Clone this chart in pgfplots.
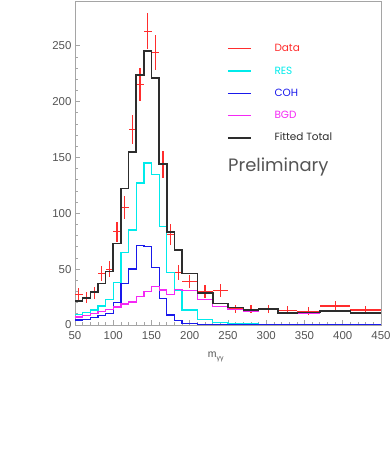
\documentclass[border=0pt]{standalone}
\usepackage{fontspec}
\setmainfont{Liberation Sans}
\newfontfamily\pop{Poppins}
\usepackage{pgfplots}
\usepackage{pgfplotstable}
\pgfplotsset{compat=1.18}

\definecolor{datared}{RGB}{255,45,45}
\definecolor{rescyan}{RGB}{0,235,235}
\definecolor{cohblue}{RGB}{25,25,235}
\definecolor{bgdmag}{RGB}{245,40,245}
\definecolor{totgray}{RGB}{45,45,45}
\definecolor{axgray}{RGB}{165,165,165}
\definecolor{lblgray}{RGB}{85,85,85}

% lower bin edge, RES, COH, BGD, fitted total (last row closes the last bin)
\pgfplotstableread{
lo  res   coh  bgd   tot
50  9.5   4.5  7.2   21.5
60  11    5    8.5   24
70  13.5  7    10.2  29.5
80  17    8.5  11.8  37
90  23    10.5 14    48
100 38    20   16    73
110 65    37   18.8  122
120 85    50   20.6  155
130 127   71   25.4  224
140 145   70   30    245
150 135   51.7 34.4  221
160 88    24   31.4  144
170 47    9    27    83
180 31    3.9  32    67
190 13.5  1.5  31    46
210 5     0.7  22.7  28.4
230 2.2   0.4  16.8  19.4
250 1.2   0.2  14.1  15.5
270 0.8   0.1  12.6  13.5
290 0.6   0.1  13.6  14.3
315 0.5   0.1  10.4  11
340 0.4   0.1  10.8  11.3
370 0.3   0.1  12.1  12.5
410 0.2   0.1  10.2  10.5
450 0.2   0.1  10.2  10.5
}\histtab

% data points: centre, value, half bin width, error
\pgfplotstableread{
x     y     dx   dy
55    27.5  5    5.2
65    24.5  5    5.0
75    29    5    5.4
85    46.3  5    6.8
95    50    5    7.1
105   83.5  5    9.1
115   105.5 5    10.3
125   175   5    13.2
135   215   5    14.7
145   263   5    16.2
155   244   5    15.6
165   144   5    12
175   81    5    9
185   47    5    6.9
200   39    10   6.2
220   30    10   5.5
240   31    10   5.6
260   14.3  10   3.8
280   14    10   3.7
302.5 14    12.5 3.7
327.5 13    12.5 3.6
355   12.3  15   3.5
390   17    20   4.1
430   13.5  20   3.7
}\datatab

\begin{document}
\begin{tikzpicture}
\begin{axis}[
    name=ax,
    scale only axis,
    width=306bp, height=324bp,
    xmin=50, xmax=450, ymin=0, ymax=290,
    xtick={50,100,...,450},
    ytick={0,50,...,250},
    minor x tick num=4, minor y tick num=4,
    xtick pos=left, ytick pos=left,
    tick align=inside,
    major tick length=5bp, minor tick length=2.8bp,
    axis line style={draw=axgray, line width=0.8bp},
    tick style={draw=axgray, line width=0.7bp},
    tick label style={font=\fontsize{11.5}{13}\selectfont, text=lblgray},
    x tick label style={yshift=-2.5bp},
    /pgf/number format/assume math mode=true,
    xlabel={m\raisebox{-0.4ex}{\fontsize{7}{8}\selectfont γγ}},
    xlabel style={at={(axis description cs:0.46,0)}, anchor=center,
        yshift=-32bp, font=\fontsize{10.5}{12}\selectfont, text=lblgray},
    legend style={draw=none, fill=none,
        at={(axis description cs:0.487,0.881)}, anchor=north west,
        font=\pop\fontsize{10.5}{12}\selectfont,
        nodes={text height=8bp, text depth=2bp, inner sep=2bp},
        row sep=8.3bp, column sep=21bp},
    legend cell align=left,
]
\addplot[mark=none, draw=none,
    legend image code/.code={\draw[datared, line width=1.3bp] (0bp,0bp) -- (23bp,0bp);},
    error bars/.cd, x dir=both, x explicit, y dir=both, y explicit,
    error mark=none, error bar style={draw=datared, line width=1.2bp}]
    table[x=x, y=y, x error=dx, y error=dy]{\datatab};
\addlegendentry[text=datared]{Data}
\addplot[const plot mark left, rescyan, line width=1.3bp,
    legend image code/.code={\draw[rescyan, line width=1.3bp] (0bp,0bp) -- (23bp,0bp);}]
    table[x=lo, y=res]{\histtab};
\addlegendentry[text=rescyan]{RES}
\addplot[const plot mark left, cohblue, line width=1.3bp,
    legend image code/.code={\draw[cohblue, line width=1.3bp] (0bp,0bp) -- (23bp,0bp);}]
    table[x=lo, y=coh]{\histtab};
\addlegendentry[text=cohblue]{COH}
\addplot[const plot mark left, bgdmag, line width=1.3bp,
    legend image code/.code={\draw[bgdmag, line width=1.3bp] (0bp,0bp) -- (23bp,0bp);}]
    table[x=lo, y=bgd]{\histtab};
\addlegendentry[text=bgdmag]{BGD}
\addplot[const plot mark left, totgray, line width=1.6bp,
    legend image code/.code={\draw[totgray, line width=1.3bp] (0bp,0bp) -- (23bp,0bp);}]
    table[x=lo, y=tot]{\histtab};
\addlegendentry[text=totgray]{Fitted Total}
\node[anchor=west, inner sep=0pt, text=lblgray, font=\pop\fontsize{18}{21}\selectfont]
    at (axis description cs:0.5,0.487) {Preliminary};
\end{axis}
\pgfresetboundingbox
\path ([xshift=-75bp, yshift=-146bp]ax.south west) rectangle ([xshift=11bp, yshift=1bp]ax.north east);
\end{tikzpicture}
\end{document}
